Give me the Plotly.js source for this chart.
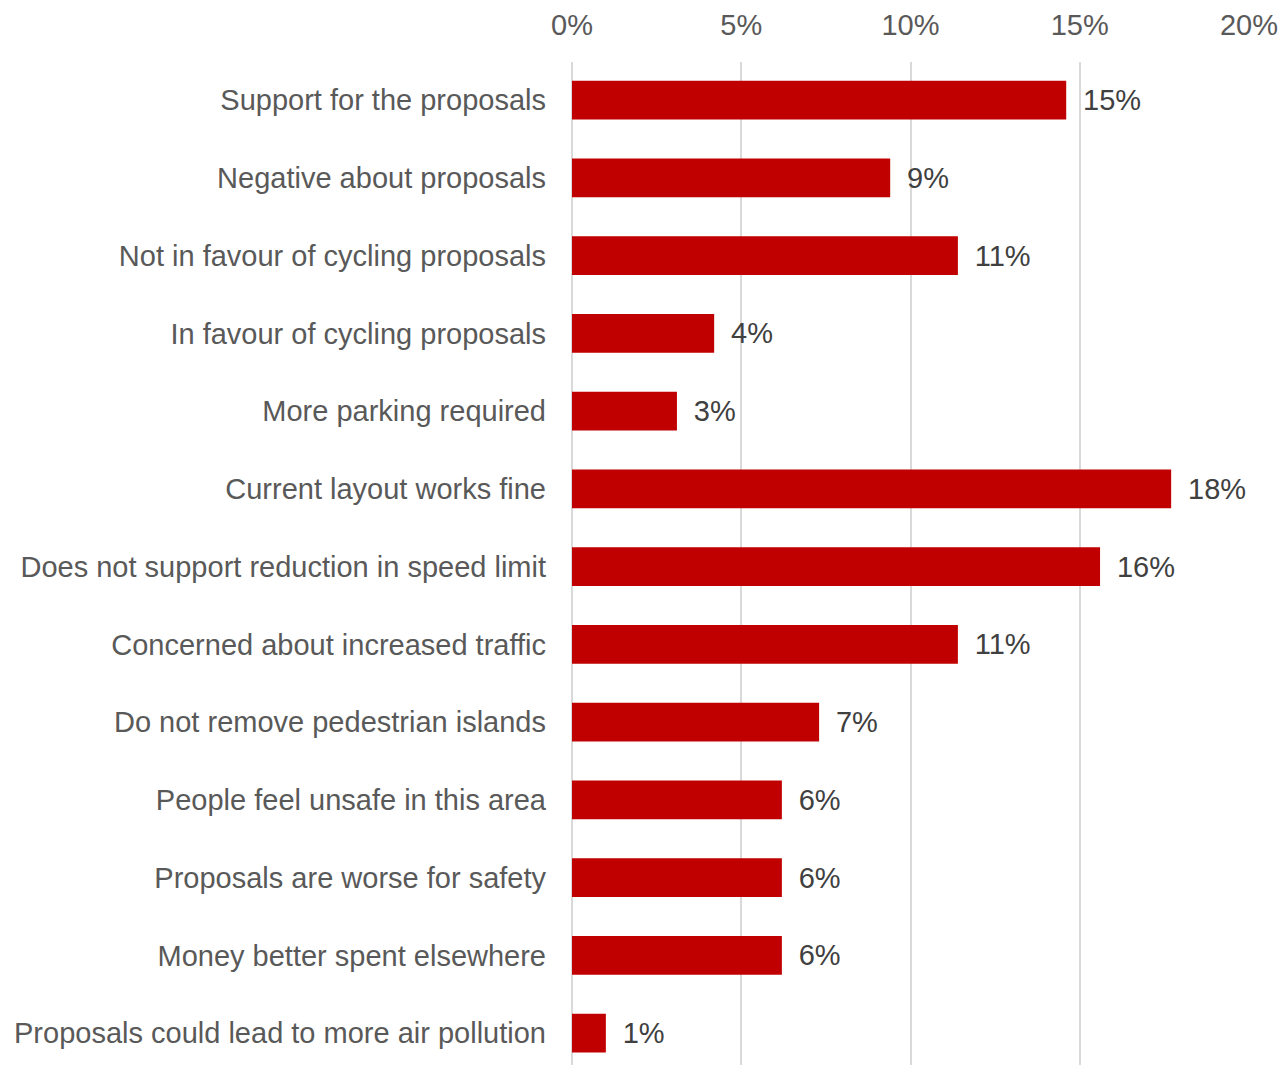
<!DOCTYPE html>
<html>
<head>
<meta charset="utf-8">
<script src="https://cdn.plot.ly/plotly-3.0.1.min.js"></script>
<style>html,body{margin:0;padding:0;background:#fff;}#chart{width:1288px;height:1065px;}</style>
</head>
<body>
<div id="chart"></div>
<script>
var categories = [
  "Support for the proposals",
  "Negative about proposals",
  "Not in favour of cycling proposals",
  "In favour of cycling proposals",
  "More parking required",
  "Current layout works fine",
  "Does not support reduction in speed limit",
  "Concerned about increased traffic",
  "Do not remove pedestrian islands",
  "People feel unsafe in this area",
  "Proposals are worse for safety",
  "Money better spent elsewhere",
  "Proposals could lead to more air pollution"
];
var values = [14.6, 9.4, 11.4, 4.2, 3.1, 17.7, 15.6, 11.4, 7.3, 6.2, 6.2, 6.2, 1.0];
var tickVals = [0, 5, 10, 15, 20];
var tickLabels = ["0%", "5%", "10%", "15%", "20%"];

var trace = {
  type: "bar",
  orientation: "h",
  x: values,
  y: categories,
  width: 0.5,
  marker: {color: "#C00000"},
  texttemplate: "\u00a0\u2009%{x:.0f}%",
  textposition: "outside",
  cliponaxis: false,
  textfont: {family: "Liberation Sans, Arial, sans-serif", size: 29, color: "#404040"},
  hoverinfo: "none"
};

var layout = {
  width: 1288, height: 1065,
  margin: {l: 572, r: 39, t: 62, b: 0},
  paper_bgcolor: "#fff", plot_bgcolor: "#fff",
  showlegend: false,
  font: {family: "Liberation Sans, Arial, sans-serif", color: "#595959", size: 29},
  xaxis: {
    side: "top",
    range: [0, 20],
    tickvals: tickVals,
    ticktext: tickLabels,
    showgrid: true, gridcolor: "#D9D9D9", gridwidth: 2,
    zeroline: true, zerolinecolor: "#D9D9D9", zerolinewidth: 2,
    showline: false,
    ticks: "",
    ticklabelstandoff: 20,
    tickfont: {size: 29, color: "#595959"},
    fixedrange: true
  },
  yaxis: {
    type: "category",
    range: [12.41, -0.49],
    showgrid: false, zeroline: false, showline: false,
    ticks: "",
    ticklabelstandoff: 25,
    tickfont: {size: 29, color: "#595959"},
    fixedrange: true
  }
};

Plotly.newPlot("chart", [trace], layout, {staticPlot: true, displayModeBar: false});
</script>
</body>
</html>
